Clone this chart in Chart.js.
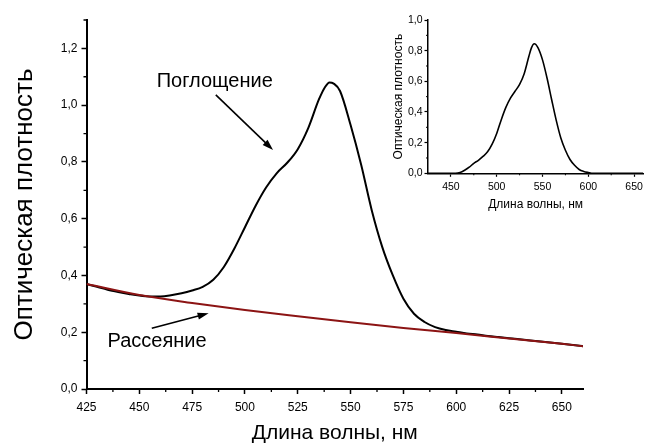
<!DOCTYPE html>
<html lang="ru">
<head>
<meta charset="utf-8">
<title>Оптическая плотность</title>
<script src="https://cdn.jsdelivr.net/npm/chart.js@4.4.1/dist/chart.umd.min.js"></script>
<style>
  html, body { margin: 0; padding: 0; background: #fff; }
  #wrap { position: relative; width: 647px; height: 446px; }
  #mainChart { position: absolute; left: 0; top: 0; }
  #insetChart { position: absolute; left: 380px; top: 0; }
</style>
</head>
<body>
<div id="wrap">
  <canvas id="mainChart" width="647" height="446"></canvas>
  <canvas id="insetChart" width="267" height="222"></canvas>
</div>
<script>
// спектр поглощения (нм / оптическая плотность)
const wavelength = [425, 430, 435, 440, 445, 450, 455, 460, 465, 470, 475, 480, 485, 490, 495,
  500, 505, 510, 515, 520, 525, 530, 535, 538, 540, 542, 545, 550, 555, 560, 565, 570, 575,
  580, 585, 590, 595, 600, 605, 610, 615, 620, 625, 630, 640, 650, 660];
const absorption = [0.370, 0.360, 0.350, 0.342, 0.335, 0.329, 0.326, 0.326, 0.330, 0.337, 0.347,
  0.360, 0.385, 0.430, 0.495, 0.570, 0.645, 0.710, 0.760, 0.797, 0.845, 0.920, 1.020, 1.065,
  1.080, 1.076, 1.050, 0.930, 0.790, 0.630, 0.500, 0.400, 0.318, 0.265, 0.236, 0.218, 0.208,
  0.202, 0.196, 0.192, 0.187, 0.183, 0.179, 0.175, 0.167, 0.159, 0.151];

// рассеяние
const scatterNm = [425, 450, 475, 500, 525, 550, 575, 600, 625, 650, 660];
const scattering = [0.370, 0.331, 0.303, 0.278, 0.256, 0.235, 0.215, 0.197, 0.178, 0.159, 0.151];

// вставка: поглощение за вычетом рассеяния
const insetNm = [425, 450, 455, 460, 465, 470, 475, 480, 485, 490, 495, 500, 505, 510, 515, 520,
  525, 530, 535, 538, 541, 545, 550, 555, 560, 565, 570, 575, 580, 585, 590, 595, 600, 605, 630, 660];
const insetAbs = [0, 0, 0, 0.005, 0.02, 0.04, 0.065, 0.085, 0.11, 0.14, 0.19, 0.26, 0.35, 0.43,
  0.49, 0.535, 0.58, 0.65, 0.76, 0.82, 0.845, 0.82, 0.74, 0.62, 0.48, 0.345, 0.23, 0.15, 0.09,
  0.052, 0.025, 0.012, 0.005, 0, 0, 0];

// деления осей
const xTicksMain = [425, 450, 475, 500, 525, 550, 575, 600, 625, 650];
const xMinorMain = [437.5, 462.5, 487.5, 512.5, 537.5, 562.5, 587.5, 612.5, 637.5];
const yTicksMain = [0, 0.2, 0.4, 0.6, 0.8, 1.0, 1.2];
const yMinorMain = [0.1, 0.3, 0.5, 0.7, 0.9, 1.1, 1.3];
const xTicksInset = [450, 500, 550, 600, 650];
const xMinorInset = [475, 525, 575, 625];
const yTicksInset = [0, 0.2, 0.4, 0.6, 0.8, 1.0];
const yMinorInset = [0.1, 0.3, 0.5, 0.7, 0.9];

const FONT = "'Liberation Sans', Arial, sans-serif";
const toPts = (xs, ys) => xs.map((x, i) => ({ x: x, y: ys[i] }));
const comma = v => Number(v).toFixed(1).replace('.', ',');

// короткие промежуточные деления
const minorTicks = {
  id: 'minorTicks',
  afterDraw(chart, args, opts) {
    const ctx = chart.ctx;
    const x = chart.scales.x, y = chart.scales.y;
    ctx.save();
    ctx.strokeStyle = '#000';
    ctx.lineWidth = opts.width || 1.2;
    ctx.beginPath();
    (opts.x || []).forEach(v => {
      const px = x.getPixelForValue(v);
      ctx.moveTo(px, x.top);
      ctx.lineTo(px, x.top + opts.length);
    });
    (opts.y || []).forEach(v => {
      const py = y.getPixelForValue(v);
      ctx.moveTo(y.right, py);
      ctx.lineTo(y.right - opts.length, py);
    });
    ctx.stroke();
    ctx.restore();
  }
};

// подписи со стрелками
const notes = {
  id: 'notes',
  afterDraw(chart, args, opts) {
    const ctx = chart.ctx;
    const sx = chart.scales.x, sy = chart.scales.y;
    (opts.items || []).forEach(n => {
      ctx.save();
      ctx.fillStyle = '#000';
      ctx.font = opts.font;
      ctx.textAlign = 'center';
      ctx.textBaseline = 'middle';
      ctx.fillText(n.text, sx.getPixelForValue(n.at[0]), sy.getPixelForValue(n.at[1]));
      const x1 = sx.getPixelForValue(n.from[0]), y1 = sy.getPixelForValue(n.from[1]);
      const x2 = sx.getPixelForValue(n.to[0]), y2 = sy.getPixelForValue(n.to[1]);
      const a = Math.atan2(y2 - y1, x2 - x1);
      const len = 11, half = 3.5;
      ctx.strokeStyle = '#000';
      ctx.lineWidth = 1.6;
      ctx.beginPath();
      ctx.moveTo(x1, y1);
      ctx.lineTo(x2 - Math.cos(a) * len * 0.8, y2 - Math.sin(a) * len * 0.8);
      ctx.stroke();
      ctx.beginPath();
      ctx.moveTo(x2, y2);
      ctx.lineTo(x2 - Math.cos(a) * len - Math.sin(a) * half, y2 - Math.sin(a) * len + Math.cos(a) * half);
      ctx.lineTo(x2 - Math.cos(a) * len + Math.sin(a) * half, y2 - Math.sin(a) * len - Math.cos(a) * half);
      ctx.closePath();
      ctx.fill();
      ctx.restore();
    });
  }
};

function axes(cfg) {
  return {
    x: {
      type: 'linear',
      min: cfg.xmin, max: cfg.xmax,
      afterBuildTicks: s => { s.ticks = cfg.xt.map(v => ({ value: v })); },
      afterFit: s => { s.height = cfg.xh; },
      border: { color: '#000', width: cfg.bw },
      grid: { drawOnChartArea: false, tickLength: cfg.tl, tickColor: '#000', tickWidth: cfg.tw },
      ticks: { color: '#000', padding: cfg.tp, maxRotation: 0, autoSkip: false,
        font: { family: FONT, size: cfg.tf }, callback: v => String(v) },
      title: { display: true, text: 'Длина волны, нм', color: '#000',
        font: { family: FONT, size: cfg.ttf }, padding: { top: 0, bottom: cfg.xtp } }
    },
    y: {
      type: 'linear',
      min: 0, max: cfg.ymax,
      afterBuildTicks: s => { s.ticks = cfg.yt.map(v => ({ value: v })); },
      afterFit: s => { s.width = cfg.yw; },
      border: { color: '#000', width: cfg.bw },
      grid: { drawOnChartArea: false, tickLength: cfg.tl, tickColor: '#000', tickWidth: cfg.tw },
      ticks: { color: '#000', padding: cfg.tp - 2, autoSkip: false,
        font: { family: FONT, size: cfg.tf }, callback: v => comma(v) },
      title: { display: true, text: 'Оптическая плотность', color: '#000',
        font: { family: FONT, size: cfg.tyf }, padding: { top: cfg.ytp, bottom: 0 } }
    }
  };
}

new Chart(document.getElementById('mainChart'), {
  type: 'line',
  data: {
    datasets: [
      { label: 'Рассеяние', data: toPts(scatterNm, scattering), order: 0,
        borderColor: '#8c1414', borderWidth: 2, pointRadius: 0, cubicInterpolationMode: 'monotone' },
      { label: 'Поглощение', data: toPts(wavelength, absorption), order: 1,
        borderColor: '#000', borderWidth: 2, pointRadius: 0, cubicInterpolationMode: 'monotone' }
    ]
  },
  options: {
    responsive: false,
    animation: false,
    devicePixelRatio: 1,
    layout: { padding: { left: 0, right: 64, top: 20, bottom: 0 } },
    plugins: {
      legend: { display: false },
      tooltip: { enabled: false },
      minorTicks: { x: xMinorMain, y: yMinorMain, length: 3, width: 1.3 },
      notes: {
        font: '20px ' + FONT,
        items: [
          { text: 'Поглощение', at: [485.7, 1.085], from: [486.2, 1.036], to: [513.3, 0.842] },
          { text: 'Рассеяние', at: [458.4, 0.166], from: [455.9, 0.214], to: [482.8, 0.267] }
        ]
      }
    },
    scales: axes({ xmin: 425, xmax: 660, ymax: 1.3, xt: xTicksMain, yt: yTicksMain,
      xh: 57, yw: 86.5, bw: 2, tl: 5, tw: 1.5, tp: 6, tf: 12, ttf: 21, tyf: 26, xtp: 0, ytp: 9 })
  },
  plugins: [minorTicks, notes]
});

new Chart(document.getElementById('insetChart'), {
  type: 'line',
  data: {
    datasets: [
      { label: 'Поглощение', data: toPts(insetNm, insetAbs),
        borderColor: '#000', borderWidth: 1.6, pointRadius: 0, cubicInterpolationMode: 'monotone' }
    ]
  },
  options: {
    responsive: false,
    animation: false,
    devicePixelRatio: 1,
    layout: { padding: { left: 0, right: 3, top: 20, bottom: 0 } },
    plugins: {
      legend: { display: false },
      tooltip: { enabled: false },
      minorTicks: { x: xMinorInset, y: yMinorInset, length: 2, width: 1 }
    },
    scales: axes({ xmin: 425, xmax: 660, ymax: 1.0, xt: xTicksInset, yt: yTicksInset,
      xh: 48.7, yw: 48, bw: 1.5, tl: 3.5, tw: 1.2, tp: 4, tf: 10.5, ttf: 12, tyf: 12, xtp: 10, ytp: 11 })
  },
  plugins: [minorTicks]
});
</script>
</body>
</html>
